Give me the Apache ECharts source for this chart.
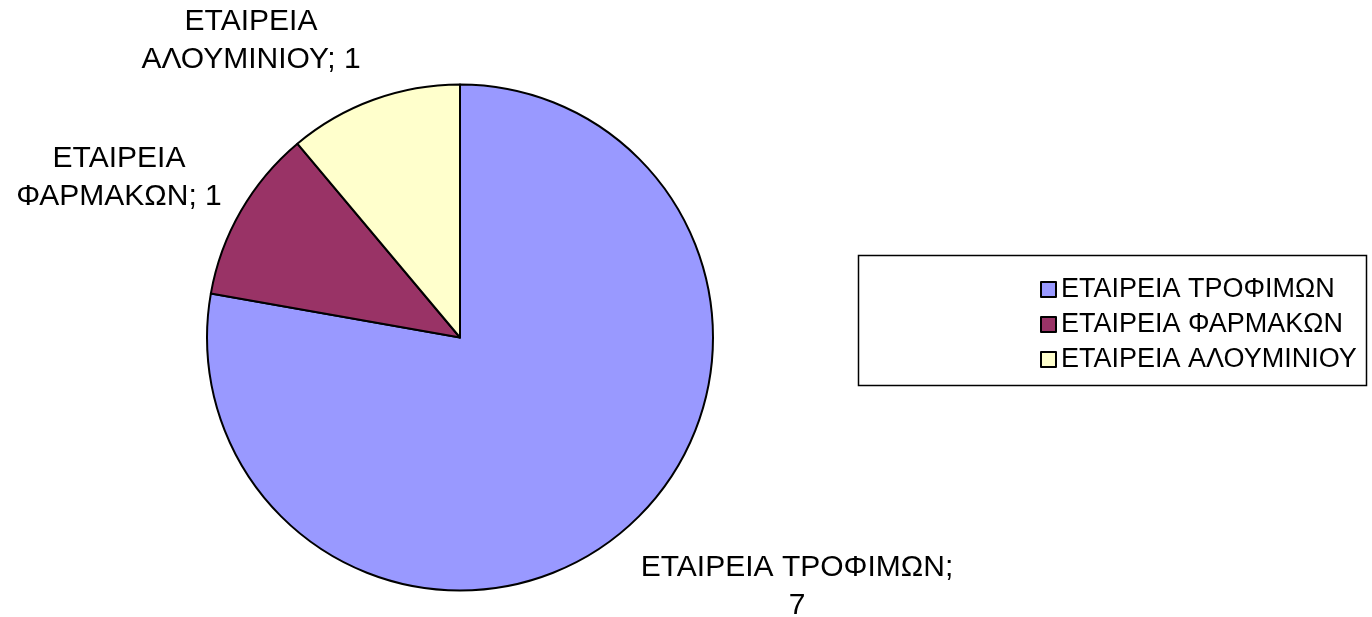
<!DOCTYPE html>
<html>
<head>
<meta charset="utf-8">
<script src="https://cdn.jsdelivr.net/npm/echarts@6/dist/echarts.min.js"></script>
<style>
html,body{margin:0;padding:0;background:#fff;}
#chart{width:1372px;height:617px;}
</style>
</head>
<body>
<div id="chart"></div>
<script>
// ---- data ----
const categories = ['ΕΤΑΙΡΕΙΑ ΤΡΟΦΙΜΩΝ', 'ΕΤΑΙΡΕΙΑ ΦΑΡΜΑΚΩΝ', 'ΕΤΑΙΡΕΙΑ ΑΛΟΥΜΙΝΙΟΥ'];
const values = [7, 1, 1];
const colors = ['#9999FF', '#993366', '#FFFFCC'];

// ---- label layout (style, not data) ----
const labelPos = [
  {x: 797, y: 587},
  {x: 119, y: 178},
  {x: 251, y: 41}
];

const FONT = '"Liberation Sans", Arial, sans-serif';

const chart = echarts.init(document.getElementById('chart'));
chart.setOption({
  animation: false,
  backgroundColor: '#ffffff',
  graphic: [{
    type: 'rect',
    shape: {x: 858.5, y: 255.5, width: 508, height: 130},
    style: {fill: 'none', stroke: '#000', lineWidth: 1.5},
    z: 0
  }],
  legend: {
    orient: 'vertical',
    left: 1035,
    top: 271,
    itemWidth: 15,
    itemHeight: 15,
    itemGap: 8,
    itemTextGap: 9,
    icon: 'rect',
    itemStyle: {borderColor: '#000', borderWidth: 2},
    textStyle: {fontFamily: FONT, fontSize: 27, color: '#000', lineHeight: 27},
    data: categories
  },
  series: [{
    type: 'pie',
    center: [460, 337.5],
    radius: [0, 253],
    startAngle: 90,
    clockwise: true,
    avoidLabelOverlap: false,
    itemStyle: {borderColor: '#000', borderWidth: 2},
    label: {
      show: true,
      position: 'outside',
      fontFamily: FONT,
      fontSize: 30,
      lineHeight: 38,
      color: '#000',
      align: 'center',
      formatter: function (p) {
        if (p.dataIndex === 0) return p.name + ';\n' + p.value;
        return p.name.replace(' ', '\n') + '; ' + p.value;
      }
    },
    labelLine: {show: false},
    labelLayout: function (params) {
      const pos = labelPos[params.dataIndex];
      return {x: pos.x, y: pos.y, align: 'center', verticalAlign: 'middle'};
    },
    emphasis: {disabled: true},
    data: categories.map((c, i) => ({name: c, value: values[i], itemStyle: {color: colors[i]}}))
  }]
});
</script>
</body>
</html>
